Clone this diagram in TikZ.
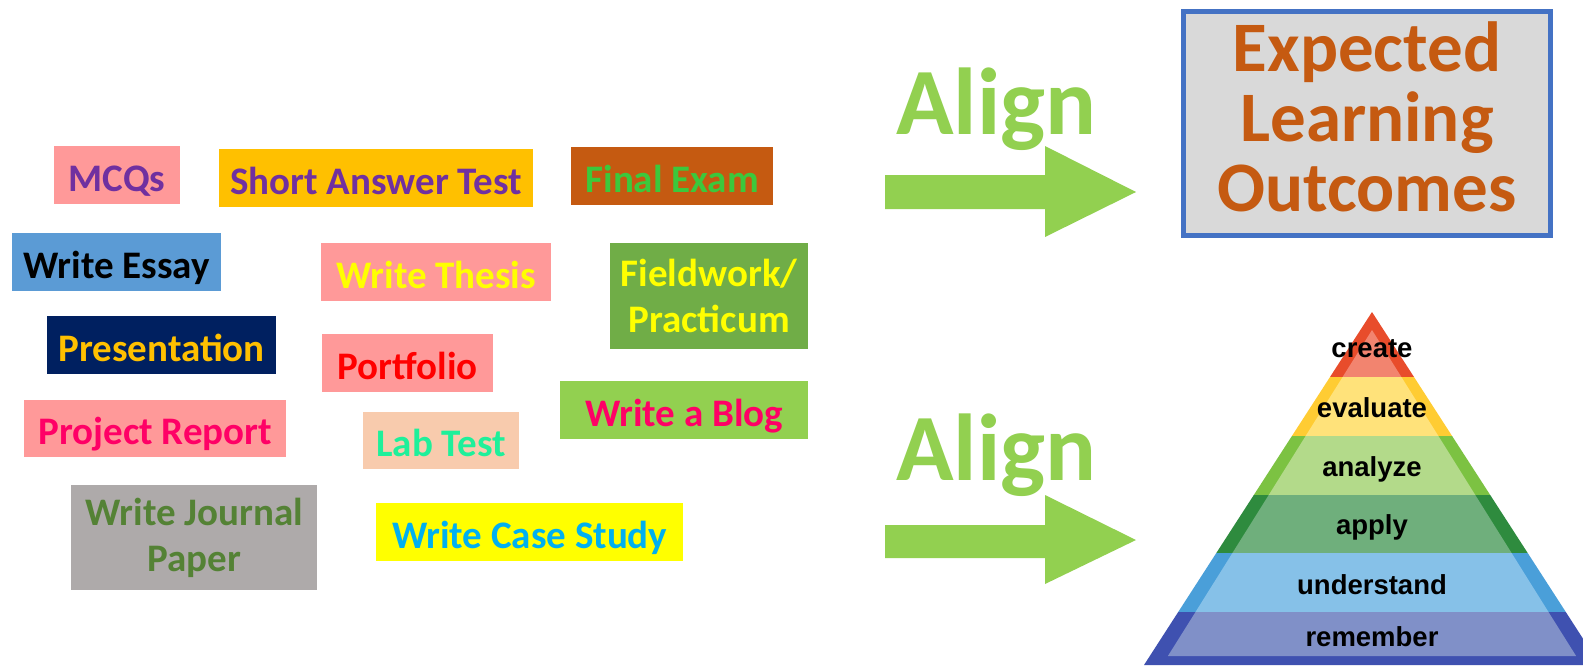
\documentclass[tikz,border=0pt]{standalone}
\usepackage{fontspec}
\setmainfont{Carlito}
\newfontfamily\pyrfont{Liberation Sans}
\definecolor{pinkbox}{HTML}{FF9999}
\definecolor{purp}{HTML}{7030A0}
\definecolor{gold}{HTML}{FFC000}
\definecolor{rust}{HTML}{C55A11}
\definecolor{fgreen}{HTML}{3CC83C}
\definecolor{sky}{HTML}{5B9BD5}
\definecolor{yell}{HTML}{FFFF00}
\definecolor{fwgreen}{HTML}{70AD47}
\definecolor{navy}{HTML}{002060}
\definecolor{lime}{HTML}{92D050}
\definecolor{hotpink}{HTML}{FF0066}
\definecolor{peach}{HTML}{F8CBAD}
\definecolor{mint}{HTML}{1EF09A}
\definecolor{greybox}{HTML}{AEAAAA}
\definecolor{olive}{HTML}{548235}
\definecolor{cyanblue}{HTML}{00B0F0}
\definecolor{eloborder}{HTML}{4472C4}
\definecolor{elofill}{HTML}{D9D9D9}
\definecolor{eloText}{HTML}{C55A11}
\definecolor{crD}{HTML}{E84C2B}\definecolor{crL}{HTML}{F2846F}
\definecolor{evD}{HTML}{FFCC33}\definecolor{evL}{HTML}{FFE27A}
\definecolor{anD}{HTML}{7CC242}\definecolor{anL}{HTML}{B3DA8A}
\definecolor{apD}{HTML}{2E8B3E}\definecolor{apL}{HTML}{6FAF7C}
\definecolor{unD}{HTML}{4A9FD9}\definecolor{unL}{HTML}{86C1E8}
\definecolor{reD}{HTML}{3F51B0}\definecolor{reL}{HTML}{8090C8}
\newcommand\bxfont{\fontsize{39}{46}\selectfont\bfseries}
\tikzset{
  abox/.style={inner sep=0pt, anchor=north west, font=\bxfont, align=center},
  onebox/.style={abox, text height=34pt, text depth=2pt},
  aligntext/.style={anchor=base west, inner sep=0pt, text=lime, font=\fontsize{95}{95}\selectfont\bfseries},
  pyrlabel/.style={anchor=base, inner sep=0pt, font=\pyrfont\fontsize{27.5}{30}\selectfont\bfseries},
  blockarrow/.style={fill=lime}
}
\begin{document}
\begin{tikzpicture}[x=1pt,y=-1pt]
\useasboundingbox (0,0) rectangle (1583,665);
\clip (0,0) rectangle (1583,665);
\fill[white] (0,0) rectangle (1583,665);

% assessment boxes
\node[onebox, fill=pinkbox, text=purp, minimum width=126.5pt, minimum height=58pt] (mcq) at (53.5,146) {MCQs};
\node[onebox, fill=gold, text=purp, minimum width=314pt, minimum height=58pt] (sat) at (219,149) {Short Answer Test};
\node[onebox, fill=rust, text=fgreen, minimum width=202pt, minimum height=58pt] (fex) at (571,147) {Final Exam};
\node[onebox, fill=sky, text=black, minimum width=209pt, minimum height=58pt] (wes) at (12,233) {Write Essay};
\node[onebox, fill=pinkbox, text=yell, minimum width=230pt, minimum height=58pt] (wth) at (321,243) {Write Thesis};
\node[abox, fill=fwgreen, text=yell, minimum width=198pt, minimum height=106pt] (fwp) at (610,243) {Fieldwork/\\Practicum};
\node[onebox, fill=navy, text=gold, minimum width=229pt, minimum height=58pt] (pre) at (47,316) {Presentation};
\node[onebox, fill=pinkbox, text=red, minimum width=171pt, minimum height=58pt] (por) at (322,334) {Portfolio};
\node[onebox, fill=lime, text=hotpink, minimum width=248pt, minimum height=58pt] (wab) at (560,381) {Write a Blog};
\node[onebox, fill=pinkbox, text=hotpink, minimum width=262pt, minimum height=57pt] (prr) at (24,400) {Project Report};
\node[onebox, fill=peach, text=mint, minimum width=156pt, minimum height=57pt] (lab) at (363,412) {Lab Test};
\node[abox, fill=greybox, text=olive, minimum width=246pt, minimum height=105pt] (wjp) at (71,485) {Write Journal\\Paper};
\node[onebox, fill=yell, text=cyanblue, minimum width=307pt, minimum height=58pt] (wcs) at (376,503) {Write Case Study};

% Align labels and arrows
\node[aligntext] (al1) at (896,134) {Align};
\node[aligntext] (al2) at (896,480) {Align};
\coordinate (t1) at (1136,192);
\coordinate (t2) at (1136,540);
\fill[blockarrow] (885,175) -- (1045,175) -- (1045,146) -- (t1) -- (1045,237) -- (1045,209) -- (885,209) -- cycle;
\fill[blockarrow] (885,525) -- (1045,525) -- (1045,495) -- (t2) -- (1045,584) -- (1045,558) -- (885,558) -- cycle;

% Expected learning outcomes
\draw[eloborder, line width=5pt, fill=elofill] (1183.5,11.5) rectangle (1550.5,235.5);
\node[inner sep=0pt, align=center, text=eloText, font=\fontsize{71}{70}\selectfont\bfseries] (elo) at (1367,117) {Expected\\Learning\\Outcomes};

% pyramid
\fill[crD] (1372,312) -- (1414,377) -- (1330,377) -- cycle;
\fill[crL] (1372,330) -- (1401.4,377) -- (1342.6,377) -- cycle;
\fill[evD] (1330,377) -- (1414,377) -- (1452.1,436) -- (1291.9,436) -- cycle;
\fill[evL] (1342.6,377) -- (1401.4,377) -- (1438.4,436) -- (1305.6,436) -- cycle;
\fill[anD] (1291.9,436) -- (1452.1,436) -- (1490.2,495) -- (1253.8,495) -- cycle;
\fill[anL] (1305.6,436) -- (1438.4,436) -- (1475.3,495) -- (1268.7,495) -- cycle;
\fill[apD] (1253.8,495) -- (1490.2,495) -- (1527.7,553) -- (1216.3,553) -- cycle;
\fill[apL] (1268.7,495) -- (1475.3,495) -- (1511.6,553) -- (1232.4,553) -- cycle;
\fill[unD] (1216.3,553) -- (1527.7,553) -- (1565.8,612) -- (1178.2,612) -- cycle;
\fill[unL] (1232.4,553) -- (1511.6,553) -- (1548.5,612) -- (1195.5,612) -- cycle;
\fill[reD] (1178.2,612) -- (1565.8,612) -- (1600,665) -- (1144,665) -- cycle;
\fill[reL] (1195.5,612) -- (1548.5,612) -- (1576.1,656) -- (1167.9,656) -- cycle;

\node[pyrlabel] (pcr) at (1372,357) {create};
\node[pyrlabel] (pev) at (1372,417) {evaluate};
\node[pyrlabel] (pan) at (1372,476) {analyze};
\node[pyrlabel] (pap) at (1372,534) {apply};
\node[pyrlabel] (pun) at (1372,594) {understand};
\node[pyrlabel] (pre2) at (1372,646) {remember};
\end{tikzpicture}
\end{document}
